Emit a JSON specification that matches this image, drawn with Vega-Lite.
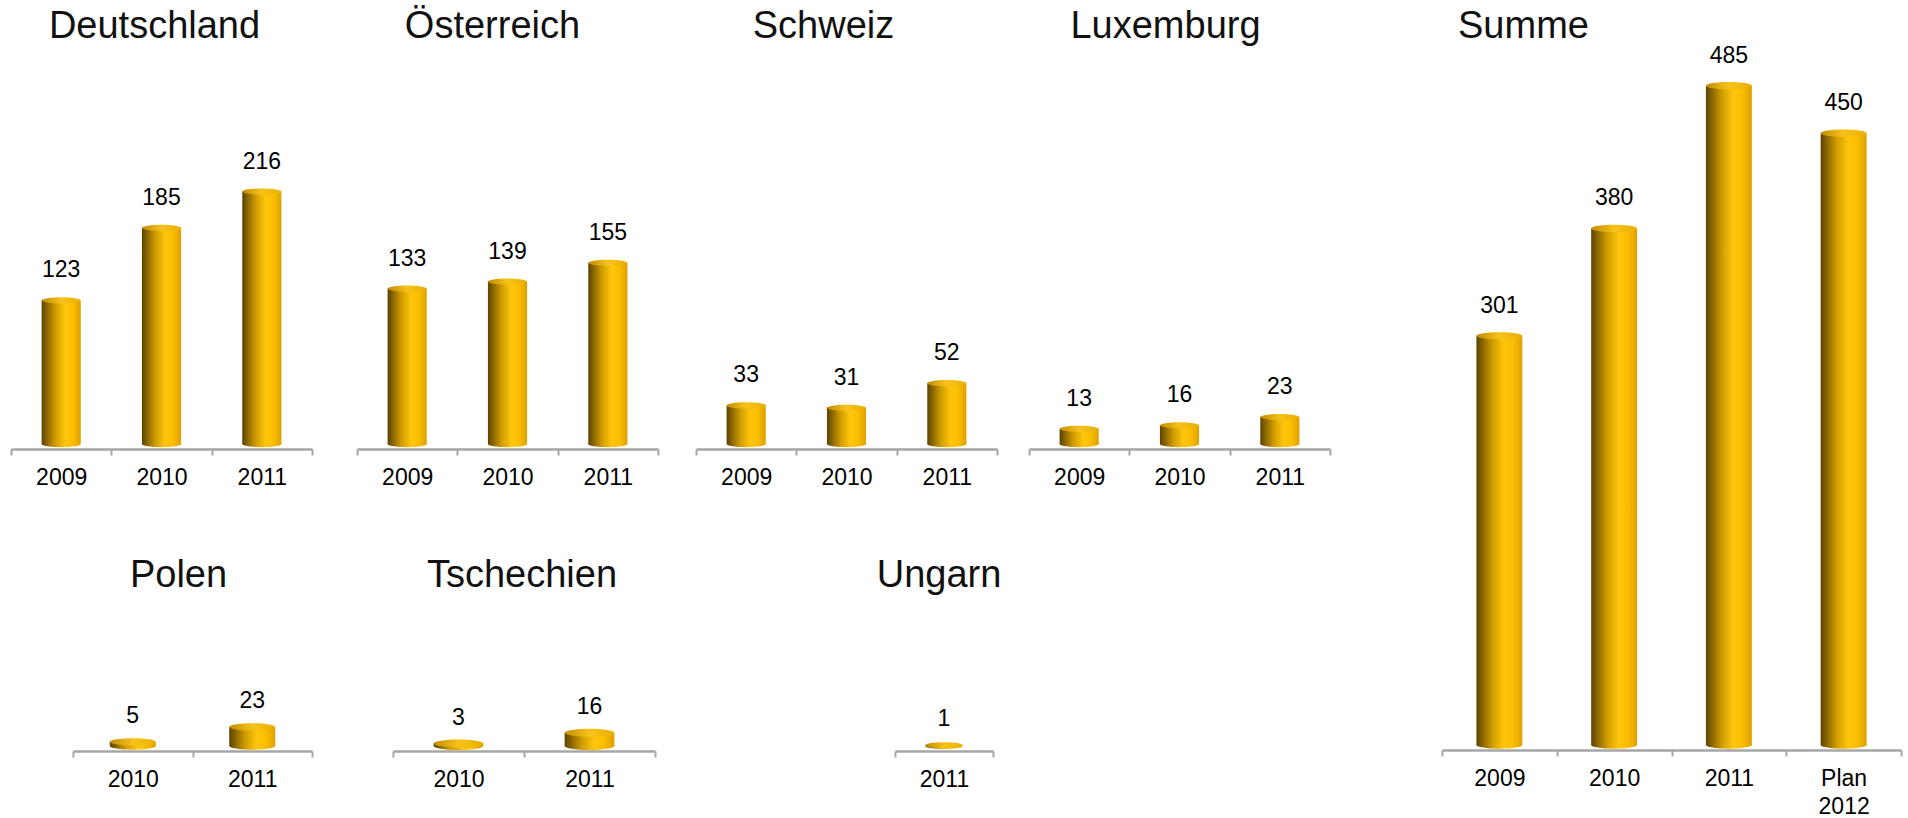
{
  "$schema": "https://vega.github.io/schema/vega-lite/v6.json",
  "padding": {"left": 10, "top": 8, "right": 4, "bottom": 4},
  "background": "white",
  "config": {
    "view": {"stroke": null},
    "font": "Liberation Sans",
    "title": {"fontSize": 38, "fontWeight": "normal", "color": "#111111", "offset": 3, "anchor": "middle", "font": "Liberation Sans"},
    "axisX": {"title": null, "domainColor": "#a6a6a6", "domainWidth": 2.5, "tickColor": "#a6a6a6", "tickWidth": 2, "tickSize": 6, "tickBand": "extent", "labelFont": "Liberation Sans", "labelFontSize": 23, "labelColor": "#000000", "labelAngle": 0, "labelPadding": 11, "offset": 5, "labelExpr": "split(datum.label, ' ')", "labelLineHeight": 28, "grid": false},
    "text": {"font": "Liberation Sans", "fontSize": 23, "color": "#000000"}
  },
  "hconcat": [
    {
      "vconcat": [
        {
          "hconcat": [
            {
              "hconcat": [
                {
                  "title": {"text": "Deutschland", "dx": -7},
                  "width": 301, "height": 395,
                  "data": {"values": [{"Jahr": "2009", "Wert": 123}, {"Jahr": "2010", "Wert": 185}, {"Jahr": "2011", "Wert": 216}]},
                  "encoding": {
                    "x": {"field": "Jahr", "type": "nominal", "sort": null, "scale": {"paddingInner": 0, "paddingOuter": 0}},
                    "y": {"field": "Wert", "type": "quantitative", "scale": {"domain": [0, 338], "nice": false}, "axis": null}
                  },
                  "layer": [
                    {"mark": {"type": "point", "shape": "M-1,0A1,0.16,0,1,1,1,0A1,0.16,0,1,1,-1,0Z", "size": 1530, "opacity": 1, "strokeWidth": 0, "fill": {"gradient": "linear", "x1": 0, "y1": 0, "x2": 1, "y2": 0, "stops": [{"offset": 0, "color": "#5c4300"}, {"offset": 0.15, "color": "#8f6a00"}, {"offset": 0.35, "color": "#d09d00"}, {"offset": 0.6, "color": "#ffc60c"}, {"offset": 0.8, "color": "#fbbd00"}, {"offset": 1, "color": "#dea000"}]}}, "encoding": {"y": {"datum": 0}}},
                    {"mark": {"type": "bar", "width": {"band": 0.39}, "strokeWidth": 0, "fill": {"gradient": "linear", "x1": 0, "y1": 0, "x2": 1, "y2": 0, "stops": [{"offset": 0, "color": "#5c4300"}, {"offset": 0.15, "color": "#8f6a00"}, {"offset": 0.35, "color": "#d09d00"}, {"offset": 0.6, "color": "#ffc60c"}, {"offset": 0.8, "color": "#fbbd00"}, {"offset": 1, "color": "#dea000"}]}}},
                    {"mark": {"type": "point", "shape": "M-1,0A1,0.16,0,1,1,1,0A1,0.16,0,1,1,-1,0Z", "size": 1530, "opacity": 1, "strokeWidth": 0, "fill": {"gradient": "linear", "x1": 0, "y1": 0, "x2": 1, "y2": 0, "stops": [{"offset": 0, "color": "#c08d00"}, {"offset": 0.5, "color": "#f7c21a"}, {"offset": 1, "color": "#eab000"}]}}},
                    {"mark": {"type": "text", "dy": -23, "baseline": "alphabetic"}, "encoding": {"text": {"field": "Wert", "type": "quantitative"}}}
                  ]
                },
                {
                  "title": {"text": "Österreich", "dx": -15},
                  "width": 301, "height": 395,
                  "data": {"values": [{"Jahr": "2009", "Wert": 133}, {"Jahr": "2010", "Wert": 139}, {"Jahr": "2011", "Wert": 155}]},
                  "encoding": {
                    "x": {"field": "Jahr", "type": "nominal", "sort": null, "scale": {"paddingInner": 0, "paddingOuter": 0}},
                    "y": {"field": "Wert", "type": "quantitative", "scale": {"domain": [0, 338], "nice": false}, "axis": null}
                  },
                  "layer": [
                    {"mark": {"type": "point", "shape": "M-1,0A1,0.16,0,1,1,1,0A1,0.16,0,1,1,-1,0Z", "size": 1530, "opacity": 1, "strokeWidth": 0, "fill": {"gradient": "linear", "x1": 0, "y1": 0, "x2": 1, "y2": 0, "stops": [{"offset": 0, "color": "#5c4300"}, {"offset": 0.15, "color": "#8f6a00"}, {"offset": 0.35, "color": "#d09d00"}, {"offset": 0.6, "color": "#ffc60c"}, {"offset": 0.8, "color": "#fbbd00"}, {"offset": 1, "color": "#dea000"}]}}, "encoding": {"y": {"datum": 0}}},
                    {"mark": {"type": "bar", "width": {"band": 0.39}, "strokeWidth": 0, "fill": {"gradient": "linear", "x1": 0, "y1": 0, "x2": 1, "y2": 0, "stops": [{"offset": 0, "color": "#5c4300"}, {"offset": 0.15, "color": "#8f6a00"}, {"offset": 0.35, "color": "#d09d00"}, {"offset": 0.6, "color": "#ffc60c"}, {"offset": 0.8, "color": "#fbbd00"}, {"offset": 1, "color": "#dea000"}]}}},
                    {"mark": {"type": "point", "shape": "M-1,0A1,0.16,0,1,1,1,0A1,0.16,0,1,1,-1,0Z", "size": 1530, "opacity": 1, "strokeWidth": 0, "fill": {"gradient": "linear", "x1": 0, "y1": 0, "x2": 1, "y2": 0, "stops": [{"offset": 0, "color": "#c08d00"}, {"offset": 0.5, "color": "#f7c21a"}, {"offset": 1, "color": "#eab000"}]}}},
                    {"mark": {"type": "text", "dy": -23, "baseline": "alphabetic"}, "encoding": {"text": {"field": "Wert", "type": "quantitative"}}}
                  ]
                }
              ],
              "spacing": 43
            },
            {
              "hconcat": [
                {
                  "title": {"text": "Schweiz", "dx": -23},
                  "width": 301, "height": 395,
                  "data": {"values": [{"Jahr": "2009", "Wert": 33}, {"Jahr": "2010", "Wert": 31}, {"Jahr": "2011", "Wert": 52}]},
                  "encoding": {
                    "x": {"field": "Jahr", "type": "nominal", "sort": null, "scale": {"paddingInner": 0, "paddingOuter": 0}},
                    "y": {"field": "Wert", "type": "quantitative", "scale": {"domain": [0, 338], "nice": false}, "axis": null}
                  },
                  "layer": [
                    {"mark": {"type": "point", "shape": "M-1,0A1,0.16,0,1,1,1,0A1,0.16,0,1,1,-1,0Z", "size": 1530, "opacity": 1, "strokeWidth": 0, "fill": {"gradient": "linear", "x1": 0, "y1": 0, "x2": 1, "y2": 0, "stops": [{"offset": 0, "color": "#5c4300"}, {"offset": 0.15, "color": "#8f6a00"}, {"offset": 0.35, "color": "#d09d00"}, {"offset": 0.6, "color": "#ffc60c"}, {"offset": 0.8, "color": "#fbbd00"}, {"offset": 1, "color": "#dea000"}]}}, "encoding": {"y": {"datum": 0}}},
                    {"mark": {"type": "bar", "width": {"band": 0.39}, "strokeWidth": 0, "fill": {"gradient": "linear", "x1": 0, "y1": 0, "x2": 1, "y2": 0, "stops": [{"offset": 0, "color": "#5c4300"}, {"offset": 0.15, "color": "#8f6a00"}, {"offset": 0.35, "color": "#d09d00"}, {"offset": 0.6, "color": "#ffc60c"}, {"offset": 0.8, "color": "#fbbd00"}, {"offset": 1, "color": "#dea000"}]}}},
                    {"mark": {"type": "point", "shape": "M-1,0A1,0.16,0,1,1,1,0A1,0.16,0,1,1,-1,0Z", "size": 1530, "opacity": 1, "strokeWidth": 0, "fill": {"gradient": "linear", "x1": 0, "y1": 0, "x2": 1, "y2": 0, "stops": [{"offset": 0, "color": "#c08d00"}, {"offset": 0.5, "color": "#f7c21a"}, {"offset": 1, "color": "#eab000"}]}}},
                    {"mark": {"type": "text", "dy": -23, "baseline": "alphabetic"}, "encoding": {"text": {"field": "Wert", "type": "quantitative"}}}
                  ]
                },
                {
                  "title": {"text": "Luxemburg", "dx": -14},
                  "width": 301, "height": 395,
                  "data": {"values": [{"Jahr": "2009", "Wert": 13}, {"Jahr": "2010", "Wert": 16}, {"Jahr": "2011", "Wert": 23}]},
                  "encoding": {
                    "x": {"field": "Jahr", "type": "nominal", "sort": null, "scale": {"paddingInner": 0, "paddingOuter": 0}},
                    "y": {"field": "Wert", "type": "quantitative", "scale": {"domain": [0, 338], "nice": false}, "axis": null}
                  },
                  "layer": [
                    {"mark": {"type": "point", "shape": "M-1,0A1,0.16,0,1,1,1,0A1,0.16,0,1,1,-1,0Z", "size": 1530, "opacity": 1, "strokeWidth": 0, "fill": {"gradient": "linear", "x1": 0, "y1": 0, "x2": 1, "y2": 0, "stops": [{"offset": 0, "color": "#5c4300"}, {"offset": 0.15, "color": "#8f6a00"}, {"offset": 0.35, "color": "#d09d00"}, {"offset": 0.6, "color": "#ffc60c"}, {"offset": 0.8, "color": "#fbbd00"}, {"offset": 1, "color": "#dea000"}]}}, "encoding": {"y": {"datum": 0}}},
                    {"mark": {"type": "bar", "width": {"band": 0.39}, "strokeWidth": 0, "fill": {"gradient": "linear", "x1": 0, "y1": 0, "x2": 1, "y2": 0, "stops": [{"offset": 0, "color": "#5c4300"}, {"offset": 0.15, "color": "#8f6a00"}, {"offset": 0.35, "color": "#d09d00"}, {"offset": 0.6, "color": "#ffc60c"}, {"offset": 0.8, "color": "#fbbd00"}, {"offset": 1, "color": "#dea000"}]}}},
                    {"mark": {"type": "point", "shape": "M-1,0A1,0.16,0,1,1,1,0A1,0.16,0,1,1,-1,0Z", "size": 1530, "opacity": 1, "strokeWidth": 0, "fill": {"gradient": "linear", "x1": 0, "y1": 0, "x2": 1, "y2": 0, "stops": [{"offset": 0, "color": "#c08d00"}, {"offset": 0.5, "color": "#f7c21a"}, {"offset": 1, "color": "#eab000"}]}}},
                    {"mark": {"type": "text", "dy": -23, "baseline": "alphabetic"}, "encoding": {"text": {"field": "Wert", "type": "quantitative"}}}
                  ]
                }
              ],
              "spacing": 30
            }
          ],
          "spacing": 36
        },
        {
          "hconcat": [
            {
              "hconcat": [
                {"width": 1, "height": 1, "data": {"values": []}, "mark": {"type": "point", "opacity": 0}},
                {
                  "hconcat": [
                    {
                      "title": {"text": "Polen", "dx": -14},
                      "width": 239, "height": 148,
                      "data": {"values": [{"Jahr": "2010", "Wert": 5}, {"Jahr": "2011", "Wert": 23}]},
                      "encoding": {
                        "x": {"field": "Jahr", "type": "nominal", "sort": null, "scale": {"paddingInner": 0, "paddingOuter": 0}},
                        "y": {"field": "Wert", "type": "quantitative", "scale": {"domain": [0, 178], "nice": false}, "axis": null}
                      },
                      "layer": [
                        {"mark": {"type": "point", "shape": "M-1,0A1,0.16,0,1,1,1,0A1,0.16,0,1,1,-1,0Z", "size": 2116, "opacity": 1, "strokeWidth": 0, "fill": {"gradient": "linear", "x1": 0, "y1": 0, "x2": 1, "y2": 0, "stops": [{"offset": 0, "color": "#5c4300"}, {"offset": 0.15, "color": "#8f6a00"}, {"offset": 0.35, "color": "#d09d00"}, {"offset": 0.6, "color": "#ffc60c"}, {"offset": 0.8, "color": "#fbbd00"}, {"offset": 1, "color": "#dea000"}]}}, "encoding": {"y": {"datum": 0}}},
                        {"mark": {"type": "bar", "width": {"band": 0.385}, "strokeWidth": 0, "fill": {"gradient": "linear", "x1": 0, "y1": 0, "x2": 1, "y2": 0, "stops": [{"offset": 0, "color": "#5c4300"}, {"offset": 0.15, "color": "#8f6a00"}, {"offset": 0.35, "color": "#d09d00"}, {"offset": 0.6, "color": "#ffc60c"}, {"offset": 0.8, "color": "#fbbd00"}, {"offset": 1, "color": "#dea000"}]}}},
                        {"mark": {"type": "point", "shape": "M-1,0A1,0.16,0,1,1,1,0A1,0.16,0,1,1,-1,0Z", "size": 2116, "opacity": 1, "strokeWidth": 0, "fill": {"gradient": "linear", "x1": 0, "y1": 0, "x2": 1, "y2": 0, "stops": [{"offset": 0, "color": "#c08d00"}, {"offset": 0.5, "color": "#f7c21a"}, {"offset": 1, "color": "#eab000"}]}}},
                        {"mark": {"type": "text", "dy": -19, "baseline": "alphabetic"}, "encoding": {"text": {"field": "Wert", "type": "quantitative"}}}
                      ]
                    },
                    {
                      "title": {"text": "Tschechien", "dx": -2},
                      "width": 262, "height": 148,
                      "data": {"values": [{"Jahr": "2010", "Wert": 3}, {"Jahr": "2011", "Wert": 16}]},
                      "encoding": {
                        "x": {"field": "Jahr", "type": "nominal", "sort": null, "scale": {"paddingInner": 0, "paddingOuter": 0}},
                        "y": {"field": "Wert", "type": "quantitative", "scale": {"domain": [0, 178], "nice": false}, "axis": null}
                      },
                      "layer": [
                        {"mark": {"type": "point", "shape": "M-1,0A1,0.16,0,1,1,1,0A1,0.16,0,1,1,-1,0Z", "size": 2480, "opacity": 1, "strokeWidth": 0, "fill": {"gradient": "linear", "x1": 0, "y1": 0, "x2": 1, "y2": 0, "stops": [{"offset": 0, "color": "#5c4300"}, {"offset": 0.15, "color": "#8f6a00"}, {"offset": 0.35, "color": "#d09d00"}, {"offset": 0.6, "color": "#ffc60c"}, {"offset": 0.8, "color": "#fbbd00"}, {"offset": 1, "color": "#dea000"}]}}, "encoding": {"y": {"datum": 0}}},
                        {"mark": {"type": "bar", "width": {"band": 0.38}, "strokeWidth": 0, "fill": {"gradient": "linear", "x1": 0, "y1": 0, "x2": 1, "y2": 0, "stops": [{"offset": 0, "color": "#5c4300"}, {"offset": 0.15, "color": "#8f6a00"}, {"offset": 0.35, "color": "#d09d00"}, {"offset": 0.6, "color": "#ffc60c"}, {"offset": 0.8, "color": "#fbbd00"}, {"offset": 1, "color": "#dea000"}]}}},
                        {"mark": {"type": "point", "shape": "M-1,0A1,0.16,0,1,1,1,0A1,0.16,0,1,1,-1,0Z", "size": 2480, "opacity": 1, "strokeWidth": 0, "fill": {"gradient": "linear", "x1": 0, "y1": 0, "x2": 1, "y2": 0, "stops": [{"offset": 0, "color": "#c08d00"}, {"offset": 0.5, "color": "#f7c21a"}, {"offset": 1, "color": "#eab000"}]}}},
                        {"mark": {"type": "text", "dy": -19, "baseline": "alphabetic"}, "encoding": {"text": {"field": "Wert", "type": "quantitative"}}}
                      ]
                    }
                  ],
                  "spacing": 79
                }
              ],
              "spacing": 60
            },
            {
              "title": {"text": "Ungarn", "dx": -5},
              "width": 98, "height": 148,
              "data": {"values": [{"Jahr": "2011", "Wert": 1}]},
              "encoding": {
                "x": {"field": "Jahr", "type": "nominal", "sort": null, "scale": {"paddingInner": 0, "paddingOuter": 0}},
                "y": {"field": "Wert", "type": "quantitative", "scale": {"domain": [0, 178], "nice": false}, "axis": null}
              },
              "layer": [
                {"mark": {"type": "point", "shape": "M-1,0A1,0.16,0,1,1,1,0A1,0.16,0,1,1,-1,0Z", "size": 1384, "opacity": 1, "strokeWidth": 0, "fill": {"gradient": "linear", "x1": 0, "y1": 0, "x2": 1, "y2": 0, "stops": [{"offset": 0, "color": "#5c4300"}, {"offset": 0.15, "color": "#8f6a00"}, {"offset": 0.35, "color": "#d09d00"}, {"offset": 0.6, "color": "#ffc60c"}, {"offset": 0.8, "color": "#fbbd00"}, {"offset": 1, "color": "#dea000"}]}}, "encoding": {"y": {"datum": 0}}},
                {"mark": {"type": "bar", "width": {"band": 0.38}, "strokeWidth": 0, "fill": {"gradient": "linear", "x1": 0, "y1": 0, "x2": 1, "y2": 0, "stops": [{"offset": 0, "color": "#5c4300"}, {"offset": 0.15, "color": "#8f6a00"}, {"offset": 0.35, "color": "#d09d00"}, {"offset": 0.6, "color": "#ffc60c"}, {"offset": 0.8, "color": "#fbbd00"}, {"offset": 1, "color": "#dea000"}]}}},
                {"mark": {"type": "point", "shape": "M-1,0A1,0.16,0,1,1,1,0A1,0.16,0,1,1,-1,0Z", "size": 1384, "opacity": 1, "strokeWidth": 0, "fill": {"gradient": "linear", "x1": 0, "y1": 0, "x2": 1, "y2": 0, "stops": [{"offset": 0, "color": "#c08d00"}, {"offset": 0.5, "color": "#f7c21a"}, {"offset": 1, "color": "#eab000"}]}}},
                {"mark": {"type": "text", "dy": -19, "baseline": "alphabetic"}, "encoding": {"text": {"field": "Wert", "type": "quantitative"}}}
              ]
            }
          ],
          "spacing": 220
        }
      ],
      "spacing": 68
    },
    {
      "title": {"text": "Summe", "anchor": "start", "dx": 17, "offset": -1.5},
      "width": 459, "height": 696,
      "data": {"values": [{"Jahr": "2009", "Wert": 301}, {"Jahr": "2010", "Wert": 380}, {"Jahr": "2011", "Wert": 485}, {"Jahr": "Plan 2012", "Wert": 450}]},
      "encoding": {
        "x": {"field": "Jahr", "type": "nominal", "sort": null, "scale": {"paddingInner": 0, "paddingOuter": 0}},
        "y": {"field": "Wert", "type": "quantitative", "scale": {"domain": [0, 512], "nice": false}, "axis": null}
      },
      "layer": [
        {"mark": {"type": "point", "shape": "M-1,0A1,0.16,0,1,1,1,0A1,0.16,0,1,1,-1,0Z", "size": 2107, "opacity": 1, "strokeWidth": 0, "fill": {"gradient": "linear", "x1": 0, "y1": 0, "x2": 1, "y2": 0, "stops": [{"offset": 0, "color": "#5c4300"}, {"offset": 0.15, "color": "#8f6a00"}, {"offset": 0.35, "color": "#d09d00"}, {"offset": 0.6, "color": "#ffc60c"}, {"offset": 0.8, "color": "#fbbd00"}, {"offset": 1, "color": "#dea000"}]}}, "encoding": {"y": {"datum": 0}}},
        {"mark": {"type": "bar", "width": {"band": 0.4}, "strokeWidth": 0, "fill": {"gradient": "linear", "x1": 0, "y1": 0, "x2": 1, "y2": 0, "stops": [{"offset": 0, "color": "#5c4300"}, {"offset": 0.15, "color": "#8f6a00"}, {"offset": 0.35, "color": "#d09d00"}, {"offset": 0.6, "color": "#ffc60c"}, {"offset": 0.8, "color": "#fbbd00"}, {"offset": 1, "color": "#dea000"}]}}},
        {"mark": {"type": "point", "shape": "M-1,0A1,0.16,0,1,1,1,0A1,0.16,0,1,1,-1,0Z", "size": 2107, "opacity": 1, "strokeWidth": 0, "fill": {"gradient": "linear", "x1": 0, "y1": 0, "x2": 1, "y2": 0, "stops": [{"offset": 0, "color": "#c08d00"}, {"offset": 0.5, "color": "#f7c21a"}, {"offset": 1, "color": "#eab000"}]}}},
        {"mark": {"type": "text", "dy": -23, "baseline": "alphabetic"}, "encoding": {"text": {"field": "Wert", "type": "quantitative"}}}
      ]
    }
  ],
  "spacing": 110
}
